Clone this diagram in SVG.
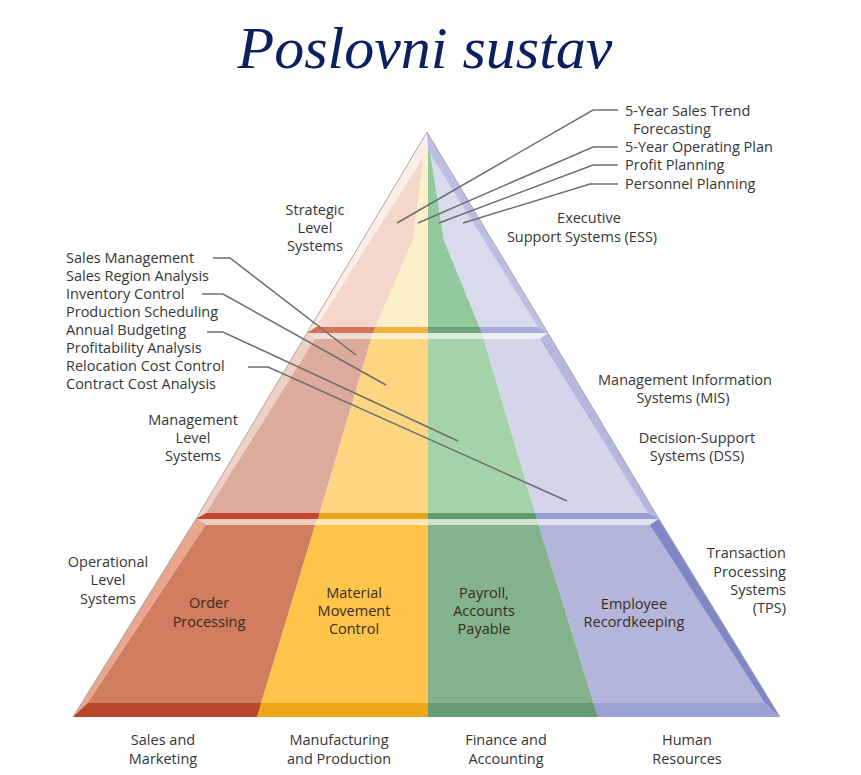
<svg xmlns="http://www.w3.org/2000/svg" width="861" height="775" viewBox="0 0 861 775">
  <style>
    .lbl { font-family: "Open Sans", "Noto Sans", "Liberation Sans", sans-serif; font-size: 14.5px; fill: #363636; }
    .cell { font-family: "Open Sans", "Noto Sans", "Liberation Sans", sans-serif; font-size: 14.5px; fill: #3b2b22; text-anchor: middle; }
    .mid { text-anchor: middle; }
    .end { text-anchor: end; }
    .lead { fill: none; stroke: #6e6e6e; stroke-width: 1.5; }
    .hi { fill: #ffffff; opacity: 0.6; }
    .edge { fill: none; stroke: #b3a8a4; stroke-width: 1; }
  </style>
  <defs>
    <clipPath id="clipT1"><polygon points="427,132 548,333 307,333"/></clipPath>
    <clipPath id="clipT2"><polygon points="307,333 548,333 659,519 196,519"/></clipPath>
    <clipPath id="clipT3"><polygon points="196,519 659,519 780,717 73,717"/></clipPath>
  </defs>

  <rect x="0" y="0" width="861" height="775" fill="#ffffff"/>

  <!-- title -->
  <text x="425" y="68" font-family="'Liberation Serif', 'DejaVu Serif', serif" font-style="italic" font-size="60" fill="#0c1f5e" text-anchor="middle">Poslovni sustav</text>

  <!-- strategic tier -->
  <g id="tier-strategic">
    <g clip-path="url(#clipT1)">
      <polygon points="250,100 427,100 427,132 413,240 373,333 373,340 250,340" fill="#f5d6cb"/>
      <polygon points="427,100 427,132 413,240 373,333 373,340 428,340 428,100" fill="#fdefc7"/>
      <polygon points="428,100 428,340 482,340 482,333 444,240 427,132 427,100" fill="#93ca9d"/>
      <polygon points="427,100 427,132 444,240 482,333 482,340 620,340 620,100" fill="#dadaee"/>
    </g>
    <polygon points="427,132 307,333 316,327 428,150" fill="#fbede7"/>
    <polygon points="427,132 548,333 538,327 428,150" fill="#bcbfe3"/>
    <polygon points="316,327 375.6,327 373,333 307,333" fill="#d5735c"/>
    <polygon points="375.6,327 428,327 428,333 373,333" fill="#f1b23e"/>
    <polygon points="428,327 479.5,327 482,333 428,333" fill="#6ca577"/>
    <polygon points="479.5,327 538,327 548,333 482,333" fill="#a8acd8"/>
  </g>

  <!-- management tier -->
  <g id="tier-management">
    <g clip-path="url(#clipT2)">
      <polygon points="150,333 373,333 318,519 150,519" fill="#dcab9c"/>
      <polygon points="373,333 428,333 428,519 318,519" fill="#fed681"/>
      <polygon points="428,333 482,333 537,519 428,519" fill="#a4d3aa"/>
      <polygon points="482,333 700,333 700,519 537,519" fill="#d4d5ea"/>
    </g>
    <polygon class="hi" points="307,333 548,333 540,339 315,339"/>
    <polygon points="307,333 315,339 206,513 196,519" fill="#efd0c4"/>
    <polygon points="548,333 659,519 648,513 540,339" fill="#b4b8df"/>
    <polygon points="206,513 319.8,513 318,519 196,519" fill="#c0462e"/>
    <polygon points="319.8,513 428,513 428,519 318,519" fill="#e8a418"/>
    <polygon points="428,513 535.2,513 537,519 428,519" fill="#5f9a6b"/>
    <polygon points="535.2,513 648,513 659,519 537,519" fill="#969cd0"/>
  </g>

  <!-- operational tier -->
  <g id="tier-operational">
    <g clip-path="url(#clipT3)">
      <polygon points="50,519 317,519 257,717 50,717" fill="#cf7c5f"/>
      <polygon points="317,519 428,519 428,717 257,717" fill="#fec54a"/>
      <polygon points="428,519 537,519 598,717 428,717" fill="#83b28c"/>
      <polygon points="537,519 800,519 800,717 598,717" fill="#b3b6da"/>
    </g>
    <polygon class="hi" points="196,519 659,519 650,525 206,525"/>
    <polygon points="196,519 206,525 88,703 73,717" fill="#e8a68f"/>
    <polygon points="659,519 780,717 765,703 650,525" fill="#7f88c5"/>
    <polygon points="88,703 261.2,703 257,717 73,717" fill="#b8472b"/>
    <polygon points="261.2,703 428,703 428,717 257,717" fill="#eca616"/>
    <polygon points="428,703 593.7,703 598,717 428,717" fill="#679b74"/>
    <polygon points="593.7,703 765,703 780,717 598,717" fill="#9ca1d3"/>
  </g>

  <!-- outer edges of the pyramid -->
  <polyline class="edge" points="73,717 196,519 307,333 427,132 548,333 659,519 780,717"/>

  <!-- leader lines -->
  <g id="connectors">
    <path class="lead" d="M213,258 H230 L356,355"/>
    <path class="lead" d="M202,294 H223 L386,385"/>
    <path class="lead" d="M207,332 H223 L458,441"/>
    <path class="lead" d="M248,367 H268 L567,501"/>
    <path class="lead" d="M618,110 H593 L397,223"/>
    <path class="lead" d="M618,147 H593 L418,223"/>
    <path class="lead" d="M618,165 H593 L439,223"/>
    <path class="lead" d="M618,184 H590 L463,223"/>
  </g>

  <!-- level labels -->
  <g id="label-strategic">
    <text class="lbl mid" x="315" y="215">Strategic</text>
    <text class="lbl mid" x="315" y="233">Level</text>
    <text class="lbl mid" x="315" y="251">Systems</text>
  </g>
  <g id="label-management">
    <text class="lbl mid" x="193" y="425">Management</text>
    <text class="lbl mid" x="193" y="443">Level</text>
    <text class="lbl mid" x="193" y="461">Systems</text>
  </g>
  <g id="label-operational">
    <text class="lbl mid" x="108" y="567">Operational</text>
    <text class="lbl mid" x="108" y="585">Level</text>
    <text class="lbl mid" x="108" y="604">Systems</text>
  </g>

  <!-- management-level applications -->
  <g id="list-management">
    <text class="lbl" x="66" y="263">Sales Management</text>
    <text class="lbl" x="66" y="281">Sales Region Analysis</text>
    <text class="lbl" x="66" y="299">Inventory Control</text>
    <text class="lbl" x="66" y="317">Production Scheduling</text>
    <text class="lbl" x="66" y="335">Annual Budgeting</text>
    <text class="lbl" x="66" y="353">Profitability Analysis</text>
    <text class="lbl" x="66" y="371">Relocation Cost Control</text>
    <text class="lbl" x="66" y="389">Contract Cost Analysis</text>
  </g>

  <!-- strategic-level applications -->
  <g id="list-strategic">
    <text class="lbl" x="625" y="116">5-Year Sales Trend</text>
    <text class="lbl" x="633" y="134">Forecasting</text>
    <text class="lbl" x="625" y="152">5-Year Operating Plan</text>
    <text class="lbl" x="625" y="170">Profit Planning</text>
    <text class="lbl" x="625" y="189">Personnel Planning</text>
  </g>

  <!-- system type labels -->
  <g id="label-ess">
    <text class="lbl mid" x="589" y="223">Executive</text>
    <text class="lbl mid" x="582" y="242">Support Systems (ESS)</text>
  </g>
  <g id="label-mis">
    <text class="lbl mid" x="685" y="385">Management Information</text>
    <text class="lbl mid" x="683" y="403">Systems (MIS)</text>
  </g>
  <g id="label-dss">
    <text class="lbl mid" x="697" y="443">Decision-Support</text>
    <text class="lbl mid" x="697" y="461">Systems (DSS)</text>
  </g>
  <g id="label-tps">
    <text class="lbl end" x="786" y="558">Transaction</text>
    <text class="lbl end" x="786" y="577">Processing</text>
    <text class="lbl end" x="786" y="595">Systems</text>
    <text class="lbl end" x="786" y="613">(TPS)</text>
  </g>

  <!-- operational cells -->
  <g id="cell-order">
    <text class="cell" x="209" y="608">Order</text>
    <text class="cell" x="209" y="627">Processing</text>
  </g>
  <g id="cell-material">
    <text class="cell" x="354" y="598">Material</text>
    <text class="cell" x="354" y="616">Movement</text>
    <text class="cell" x="354" y="634">Control</text>
  </g>
  <g id="cell-payroll">
    <text class="cell" x="484" y="598">Payroll,</text>
    <text class="cell" x="484" y="616">Accounts</text>
    <text class="cell" x="484" y="634">Payable</text>
  </g>
  <g id="cell-employee">
    <text class="cell" x="634" y="609">Employee</text>
    <text class="cell" x="634" y="627">Recordkeeping</text>
  </g>

  <!-- functional areas -->
  <g id="area-sales">
    <text class="lbl mid" x="163" y="745">Sales and</text>
    <text class="lbl mid" x="163" y="764">Marketing</text>
  </g>
  <g id="area-manufacturing">
    <text class="lbl mid" x="339" y="745">Manufacturing</text>
    <text class="lbl mid" x="339" y="764">and Production</text>
  </g>
  <g id="area-finance">
    <text class="lbl mid" x="506" y="745">Finance and</text>
    <text class="lbl mid" x="506" y="764">Accounting</text>
  </g>
  <g id="area-hr">
    <text class="lbl mid" x="687" y="745">Human</text>
    <text class="lbl mid" x="687" y="764">Resources</text>
  </g>
</svg>
